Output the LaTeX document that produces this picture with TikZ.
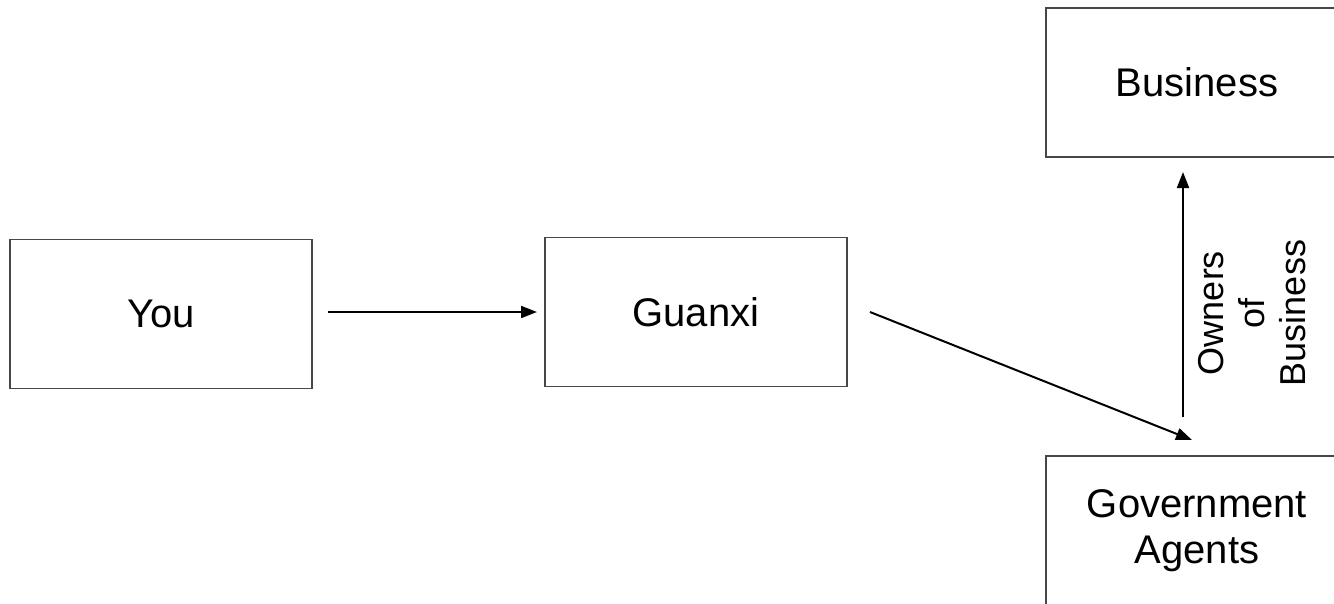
\documentclass[tikz,border=0pt]{standalone}
\usepackage{fontspec}
\setmainfont{Liberation Sans}
\usetikzlibrary{arrows.meta}
\begin{document}
\begin{tikzpicture}[x=1pt,y=-1pt,
  box/.style={draw=black!72, line width=1.4pt, minimum width=302pt, minimum height=149pt, inner sep=0pt, outer sep=0pt, font=\fontsize{40}{46}\selectfont},
  conn/.style={draw=black, line width=2pt, -{Triangle[length=16pt,width=12pt]}},
  lbl/.style={rotate=90, align=center, inner sep=0pt, font=\fontsize{36}{41}\selectfont}
]
\useasboundingbox (0,0) rectangle (1334,603);
\clip (0,0) rectangle (1334,603);
\node[box] (you) at (161,314) {You};
\node[box] (guanxi) at (696,312) {Guanxi};
\node[box] (business) at (1197,82.5) {Business};
\node[box, align=center] (gov) at (1197,530.5) {Government\\Agents};
\draw[conn, shorten <=16pt, shorten >=8pt] (you.east |- guanxi.west) -- (guanxi.west);
\draw[conn] ([xshift=23pt]guanxi.east) -- ([xshift=-5pt,yshift=16pt]gov.north);
\draw[conn] ([xshift=-14pt,yshift=39pt]gov.north) -- ([xshift=-14pt,yshift=-15pt]business.south);
\node[lbl] (owners) at (1252,313) {Owners\\of\\Business};
\end{tikzpicture}
\end{document}
